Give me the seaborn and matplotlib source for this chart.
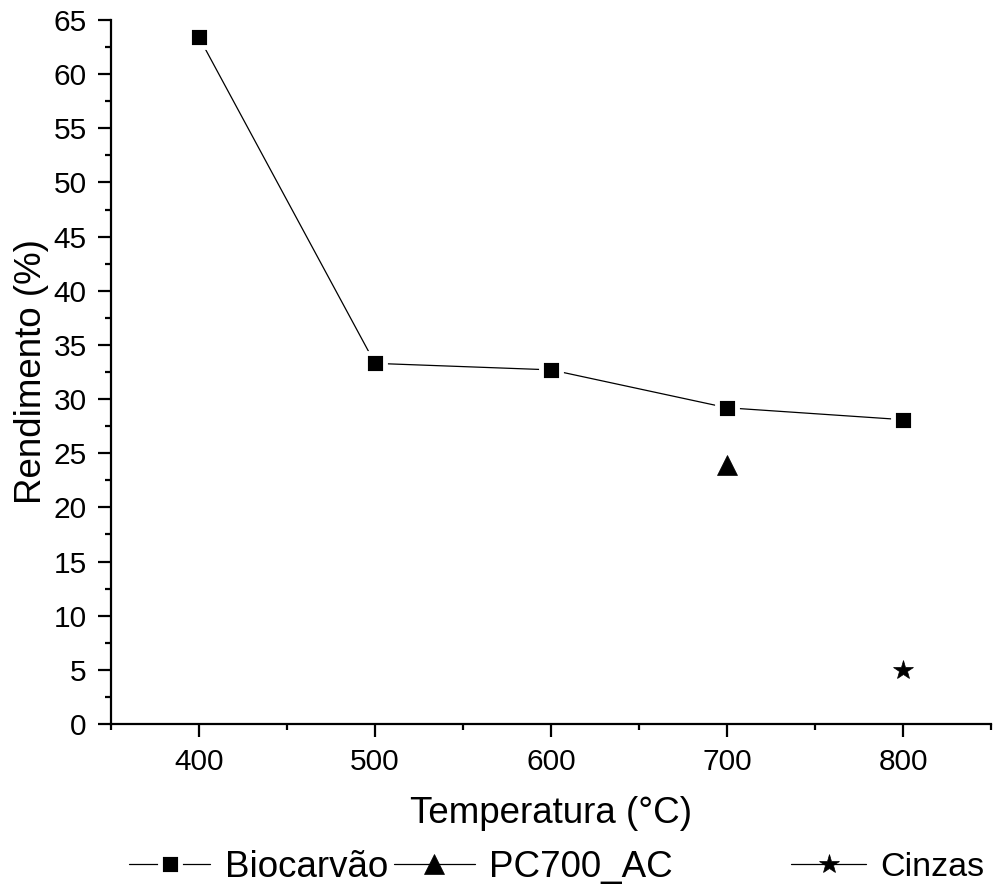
import matplotlib
matplotlib.use("Agg")
import matplotlib.pyplot as plt
import seaborn as sns
import pandas as pd
from matplotlib.ticker import MultipleLocator

# Data
temp_bio = [400, 500, 600, 700, 800]
rend_bio = [63.4, 33.3, 32.7, 29.2, 28.1]
temp_pc = [700]
rend_pc = [23.9]
temp_cz = [800]
rend_cz = [5.0]
labels = ["Biocarvão", "PC700_AC", "Cinzas"]
x_ticks = [400, 500, 600, 700, 800]

sns.set_theme(style="ticks")
plt.rcParams['font.family'] = ['Liberation Sans', 'DejaVu Sans']

fig = plt.figure(figsize=(9.93, 8.9), dpi=100)
ax = fig.add_axes([0.1118, 0.1865, 0.8862, 0.7910])

df_bio = pd.DataFrame({"T": temp_bio, "R": rend_bio})
df_pc = pd.DataFrame({"T": temp_pc, "R": rend_pc})
df_cz = pd.DataFrame({"T": temp_cz, "R": rend_cz})

sns.lineplot(data=df_bio, x="T", y="R", ax=ax, color="black", lw=0.9,
             marker="s", markersize=15, markerfacecolor="black",
             markeredgecolor="white", markeredgewidth=3.5, label=labels[0])
sns.lineplot(data=df_pc, x="T", y="R", ax=ax, color="black", lw=0.9,
             marker="^", markersize=14, markerfacecolor="black",
             markeredgecolor="black", markeredgewidth=0.5, label=labels[1])
sns.lineplot(data=df_cz, x="T", y="R", ax=ax, color="black", lw=0.9,
             marker="*", markersize=15, markerfacecolor="black",
             markeredgecolor="black", markeredgewidth=0.5, label=labels[2])

ax.set_xlim(350, 850)
ax.set_ylim(0, 65)
ax.set_xticks(x_ticks)
ax.xaxis.set_minor_locator(MultipleLocator(50))
ax.yaxis.set_major_locator(MultipleLocator(5))
ax.yaxis.set_minor_locator(MultipleLocator(2.5))

for s in ["top", "right"]:
    ax.spines[s].set_visible(False)
for s in ["left", "bottom"]:
    ax.spines[s].set_linewidth(1.6)
    ax.spines[s].set_color("black")

ax.tick_params(axis="both", which="major", direction="out", length=9.4,
               width=1.6, labelsize=21.5, colors="black", pad=8)
ax.tick_params(axis="both", which="minor", direction="out", length=4.5,
               width=1.6, colors="black")

ax.set_xlabel("Temperatura (°C)", fontsize=26.5, labelpad=14, color="black")
ax.set_ylabel("Rendimento (%)", fontsize=26.5, labelpad=3, color="black")

handles, labs = ax.get_legend_handles_labels()
ax.get_legend().remove()

leg_kw = dict(frameon=False, handlelength=2.2, handletextpad=0.4,
              borderaxespad=0, borderpad=0, labelcolor="black")
leg1 = fig.legend(handles[:2], labs[:2], ncol=2, loc="center left",
                  bbox_to_anchor=(0.13, 0.025), columnspacing=0.15,
                  fontsize=26.5, **leg_kw)
leg2 = fig.legend(handles[2:], labs[2:], ncol=1, loc="center left",
                  bbox_to_anchor=(0.797, 0.025), fontsize=24.5, **leg_kw)

fig.savefig("out.png", dpi=100, facecolor="white")
